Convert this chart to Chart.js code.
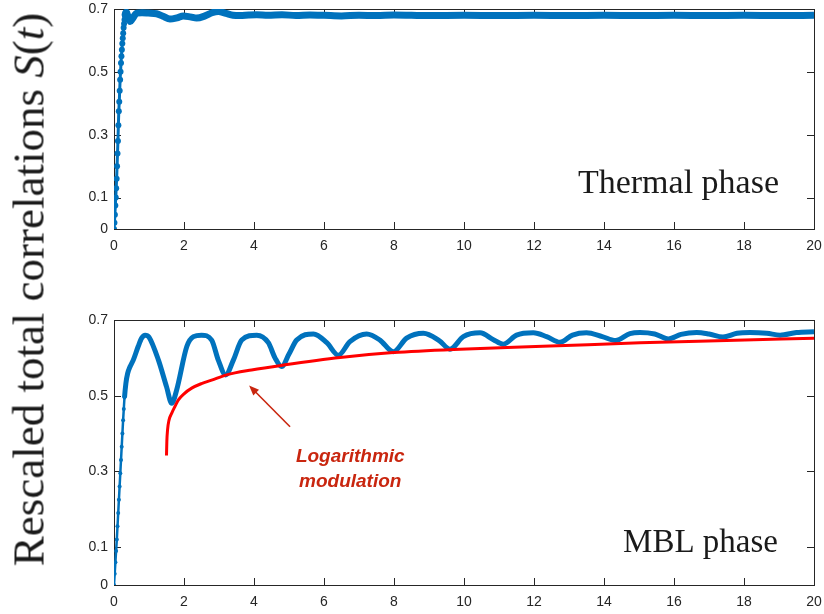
<!DOCTYPE html>
<html>
<head>
<meta charset="utf-8">
<script src="https://cdn.jsdelivr.net/npm/chart.js@4.4.1/dist/chart.umd.min.js"></script>
<style>
  body { margin: 0; background: #fff; }
  #wrap { position: relative; width: 824px; height: 614px; overflow: hidden; background: #fff; }
  #wrap canvas { position: absolute; left: 0; }
  #ylabel {
    position: absolute; left: -271px; top: 267px; width: 600px; height: 45px;
    font: 45px/1 "Liberation Serif", serif; color: #1a1a1a; text-align: center;
    white-space: nowrap; transform: rotate(-90deg);
  }
</style>
</head>
<body>
<div id="wrap">
  <canvas id="thermalChart" width="824" height="262" style="top:0"></canvas>
  <canvas id="mblChart" width="824" height="324" style="top:290px"></canvas>
  <div id="ylabel">Rescaled total correlations <i>S</i>(<i>t</i>)</div>
</div>
<script>
// tick values
const xTicksMax = 20;
const yTickValues = [0, 0.1, 0.3, 0.5, 0.7];

// thermal phase (top panel)
const thermalT = [0, 0.0125, 0.025, 0.0375, 0.05, 0.0625, 0.075, 0.0875, 0.1, 0.1125, 0.125, 0.1375,
  0.15, 0.1625, 0.175, 0.1875, 0.2, 0.2125, 0.225, 0.2375, 0.25, 0.2625, 0.275, 0.2875, 0.3, 0.3125,
  0.33, 0.36, 0.40, 0.46, 0.52, 0.65, 0.8, 0.98, 1.22, 1.4, 1.6, 1.8, 1.98, 2.18, 2.36, 2.6, 2.8, 2.98,
  3.2, 3.4, 3.6, 3.85, 4.08, 4.4, 4.8, 5.2, 5.6, 6.0, 6.5, 7.0, 7.5, 8.0, 9, 10, 11, 12, 13, 14, 15,
  16, 17, 18, 19, 20];
const thermalS = [0, 0.02, 0.045, 0.075, 0.10, 0.13, 0.16, 0.20, 0.24, 0.28, 0.33, 0.375,
  0.405, 0.44, 0.475, 0.50, 0.528, 0.55, 0.57, 0.59, 0.607, 0.623, 0.64, 0.653, 0.666, 0.678,
  0.687, 0.69, 0.675, 0.66, 0.668, 0.687, 0.688, 0.687, 0.685, 0.677, 0.668, 0.672, 0.678, 0.675,
  0.671, 0.678, 0.688, 0.692, 0.686, 0.68, 0.679, 0.681, 0.682, 0.68, 0.682, 0.679, 0.681, 0.68,
  0.678, 0.68, 0.679, 0.681, 0.679, 0.68, 0.679, 0.68, 0.679, 0.68, 0.679, 0.68, 0.679, 0.68,
  0.679, 0.68];

// MBL phase (bottom panel)
const mblT = [0, 0.02, 0.04, 0.06, 0.08, 0.10, 0.12, 0.14, 0.16, 0.18, 0.20, 0.22, 0.24, 0.26, 0.28, 0.30,
  0.34, 0.39, 0.46, 0.55, 0.69, 0.79, 0.89, 1.0, 1.27, 1.5, 1.65, 1.79, 2.08, 2.27, 2.5, 2.79, 2.98,
  3.19, 3.41, 3.65, 4.08, 4.41, 4.6, 4.79, 5.0, 5.22, 5.7, 6.08, 6.41, 6.74, 7.22, 7.6, 7.98, 8.36,
  8.84, 9.3, 9.6, 9.98, 10.46, 10.84, 11.12, 11.5, 11.98, 12.36, 12.74, 13.1, 13.5, 13.95, 14.33,
  14.74, 15.03, 15.45, 15.84, 16.2, 16.65, 17.0, 17.4, 17.8, 18.17, 18.65, 19.03, 19.5, 20];
const mblS = [0, 0.03, 0.06, 0.09, 0.12, 0.155, 0.19, 0.225, 0.26, 0.295, 0.33, 0.365, 0.40, 0.435, 0.465, 0.495,
  0.533, 0.559, 0.577, 0.594, 0.63, 0.652, 0.66, 0.655, 0.594, 0.524, 0.48, 0.515, 0.63, 0.656, 0.66,
  0.647, 0.594, 0.555, 0.594, 0.647, 0.66, 0.64, 0.60, 0.577, 0.61, 0.647, 0.663, 0.64, 0.607, 0.643,
  0.663, 0.647, 0.616, 0.652, 0.665, 0.645, 0.623, 0.656, 0.666, 0.648, 0.636, 0.66, 0.666, 0.656,
  0.641, 0.66, 0.666, 0.656, 0.646, 0.664, 0.667, 0.663, 0.65, 0.662, 0.667, 0.663, 0.655, 0.665,
  0.667, 0.665, 0.66, 0.667, 0.669];

// logarithmic modulation (red)
const logT = [1.5, 1.51, 1.53, 1.57, 1.65, 1.75, 1.84, 2.0, 2.22, 2.5, 2.79, 3.22, 3.93, 4.84, 6.46,
  7.98, 9.89, 12.46, 15.03, 17.5, 20];
const logS = [0.342, 0.38, 0.41, 0.435, 0.454, 0.473, 0.489, 0.505, 0.52, 0.532, 0.541, 0.555, 0.568,
  0.581, 0.601, 0.614, 0.623, 0.631, 0.64, 0.646, 0.652];

const blue = '#0072BD';
const axisColor = '#262626';
const noteColor = '#C9260F';

const toPoints = (ts, ss) => ts.map((t, i) => ({ x: t, y: ss[i] }));

const boxTicks = {
  id: 'boxTicks',
  beforeDatasetsDraw(chart) {
    const { ctx, chartArea: a, scales: { x, y } } = chart;
    ctx.save();
    ctx.strokeStyle = axisColor;
    ctx.lineWidth = 1;
    ctx.strokeRect(Math.round(a.left) + 0.5, Math.round(a.top) + 0.5,
      Math.round(a.right - a.left), Math.round(a.bottom - a.top));
    ctx.beginPath();
    x.ticks.forEach(t => {
      const px = Math.round(x.getPixelForValue(t.value)) + 0.5;
      ctx.moveTo(px, a.bottom); ctx.lineTo(px, a.bottom - 7);
      ctx.moveTo(px, a.top); ctx.lineTo(px, a.top + 7);
    });
    y.ticks.forEach(t => {
      const py = Math.round(y.getPixelForValue(t.value)) + 0.5;
      ctx.moveTo(a.left, py); ctx.lineTo(a.left + 7, py);
      ctx.moveTo(a.right, py); ctx.lineTo(a.right - 7, py);
    });
    ctx.stroke();
    ctx.restore();
  }
};

function phaseLabel(text, tRight, sBase, size) {
  return {
    id: 'phaseLabel',
    afterDatasetsDraw(chart) {
      const { ctx, scales: { x, y } } = chart;
      ctx.save();
      ctx.font = size + 'px "Liberation Serif", serif';
      ctx.fillStyle = '#1a1a1a';
      ctx.textAlign = 'right';
      ctx.textBaseline = 'alphabetic';
      ctx.fillText(text, x.getPixelForValue(tRight), y.getPixelForValue(sBase));
      ctx.restore();
    }
  };
}

const logNote = {
  id: 'logNote',
  afterDatasetsDraw(chart) {
    const { ctx, scales: { x, y } } = chart;
    const x0 = x.getPixelForValue(5.03), y0 = y.getPixelForValue(0.418);
    const x1 = x.getPixelForValue(3.86), y1 = y.getPixelForValue(0.527);
    const ang = Math.atan2(y1 - y0, x1 - x0);
    ctx.save();
    ctx.strokeStyle = noteColor;
    ctx.fillStyle = noteColor;
    ctx.lineWidth = 1.6;
    ctx.beginPath();
    ctx.moveTo(x0, y0);
    ctx.lineTo(x1 - 6 * Math.cos(ang), y1 - 6 * Math.sin(ang));
    ctx.stroke();
    ctx.beginPath();
    ctx.moveTo(x1, y1);
    ctx.lineTo(x1 - 10 * Math.cos(ang) + 4 * Math.sin(ang), y1 - 10 * Math.sin(ang) - 4 * Math.cos(ang));
    ctx.lineTo(x1 - 10 * Math.cos(ang) - 4 * Math.sin(ang), y1 - 10 * Math.sin(ang) + 4 * Math.cos(ang));
    ctx.closePath();
    ctx.fill();
    ctx.font = 'italic bold 19px "Liberation Sans", Arial, sans-serif';
    ctx.textAlign = 'center';
    ctx.textBaseline = 'alphabetic';
    const cx = x.getPixelForValue(6.75);
    ctx.fillText('Logarithmic', cx, y.getPixelForValue(0.325));
    ctx.fillText('modulation', cx, y.getPixelForValue(0.259));
    ctx.restore();
  }
};

function makeOptions(padTop, xAxisHeight) {
  return {
    responsive: false,
    animation: false,
    devicePixelRatio: 1,
    layout: { padding: { top: padTop, right: 10, left: 0, bottom: 0 } },
    plugins: { legend: { display: false }, tooltip: { enabled: false } },
    scales: {
      x: {
        type: 'linear', min: 0, max: xTicksMax,
        grid: { display: false, drawTicks: false }, border: { display: false },
        ticks: { stepSize: 2, padding: 9, color: axisColor, maxRotation: 0,
          font: { family: '"Liberation Sans", Arial, sans-serif', size: 14 } },
        afterFit: s => { s.height = xAxisHeight; s.paddingLeft = 0; s.paddingRight = 0; }
      },
      y: {
        type: 'linear', min: 0, max: 0.7,
        grid: { display: false, drawTicks: false }, border: { display: false },
        afterBuildTicks: s => { s.ticks = yTickValues.map(v => ({ value: v })); },
        ticks: { padding: 6, color: axisColor,
          callback: v => String(Math.round(v * 10) / 10),
          font: { family: '"Liberation Sans", Arial, sans-serif', size: 14 } },
        afterFit: s => { s.width = 114; s.paddingTop = 0; s.paddingBottom = 0; }
      }
    }
  };
}

new Chart(document.getElementById('thermalChart'), {
  type: 'line',
  data: {
    datasets: [{
      data: toPoints(thermalT, thermalS),
      borderColor: blue,
      backgroundColor: blue,
      cubicInterpolationMode: 'monotone',
      pointRadius: c => (c.raw && c.raw.x <= 0.32 ? 3 : 0),
      pointBorderWidth: 0,
      segment: { borderWidth: c => (c.p1.parsed.x <= 0.32 ? 3 : 7) }
    }]
  },
  options: makeOptions(9, 33),
  plugins: [boxTicks, phaseLabel('Thermal phase', 19.0, 0.115, 34)]
});

new Chart(document.getElementById('mblChart'), {
  type: 'line',
  data: {
    datasets: [{
      data: toPoints(logT, logS),
      borderColor: '#FF0000',
      borderWidth: 3,
      pointRadius: 0,
      cubicInterpolationMode: 'monotone'
    }, {
      data: toPoints(mblT, mblS),
      borderColor: blue,
      backgroundColor: blue,
      cubicInterpolationMode: 'monotone',
      pointRadius: c => (c.raw && c.raw.x <= 0.3 ? 2 : 0),
      pointBorderWidth: 0,
      segment: { borderWidth: c => (c.p1.parsed.x <= 0.3 ? 2.5 : 5) }
    }]
  },
  options: makeOptions(30, 29),
  plugins: [boxTicks, phaseLabel('MBL phase', 18.97, 0.087, 33), logNote]
});
</script>
</body>
</html>
